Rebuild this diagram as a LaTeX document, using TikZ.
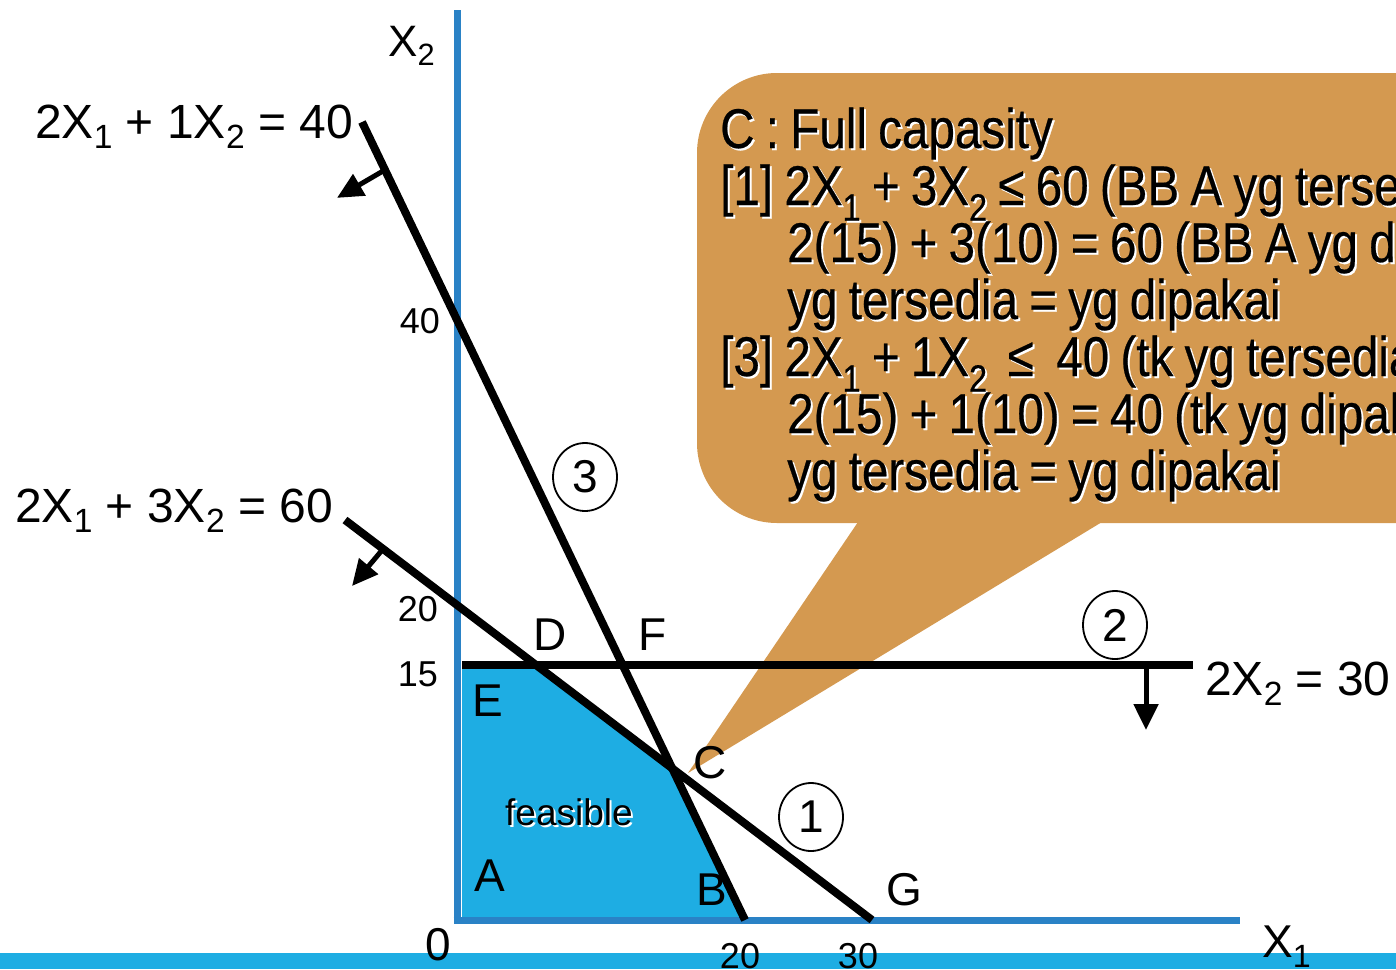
\documentclass[tikz,border=0pt]{standalone}
\usepackage{fontspec}
\usepackage{graphicx}
\setmainfont{Liberation Sans}
\newfontfamily\narrowsans[FakeStretch=0.85,WordSpace=0.85,FakeBold=0.4]{Liberation Sans}
\usetikzlibrary{arrows.meta,positioning,calc,shapes.geometric}
\definecolor{axisblue}{RGB}{42,130,198}
\definecolor{feascyan}{RGB}{30,173,227}
\definecolor{calloutbrown}{RGB}{212,153,80}
\newcommand{\lowsub}[1]{\raisebox{-0.22em}{\scalebox{0.7}{#1}}}
\newcommand{\memosub}[1]{\raisebox{-0.28em}{\scalebox{0.68}{#1}}}

\begin{document}
\begin{tikzpicture}[x=1pt,y=-1pt,>={Triangle[length=26pt,width=24pt]},
  lbl/.style={font=\fontsize{46}{50}\selectfont,inner sep=0pt,anchor=base west},
  eqlbl/.style={lbl,font=\fontsize{48}{52}\selectfont},
  tick/.style={font=\fontsize{36}{40}\selectfont,inner sep=0pt},
  cline/.style={line width=8pt},
  axis/.style={draw=axisblue,line width=7pt},
  dirarrow/.style={->,line width=5pt},
  num/.style={draw,ellipse,line width=1.8pt,minimum width=64pt,minimum height=68pt,inner sep=0pt,font=\fontsize{46}{50}\selectfont},
  memo/.style={font=\narrowsans\fontsize{56}{60}\selectfont,inner sep=0pt,anchor=base west}]
  \useasboundingbox (0,0) rectangle (1396,969);
  \clip (0,0) rectangle (1396,969);
  \coordinate (O) at (457,920);
  \coordinate (ytop) at (457,10);
  \coordinate (xend) at (1240,920);
  \coordinate (l3a) at (362,122);
  \coordinate (l3b) at (745,920);
  \coordinate (l1a) at (345,520);
  \coordinate (l1b) at (872,920);
  \coordinate (l2a) at (462,665);
  \coordinate (l2b) at (1193,665);
  \coordinate (D) at (intersection of l1a--l1b and l2a--l2b);
  \coordinate (C) at (intersection of l1a--l1b and l3a--l3b);

  \fill[feascyan] (l2a) -- (D) -- (C) -- (l3b) -- (462,920) -- cycle;
  \fill[feascyan] (0,953) rectangle (1396,969);

  \fill[calloutbrown,rounded corners=80pt] (697,73) rectangle (1480,523);
  \fill[calloutbrown] (858,522) -- (1102,522) -- (688,773) -- cycle;
  \foreach \bx/\by/\txt [count=\i] in {720/148/{C : Full capasity},
      720/205/{[1] 2X\memosub{1} + 3X\memosub{2} ≤ 60 (BB A yg tersedia)},
      787/262/{2(15) + 3(10) = 60 (BB A yg dipakai)},
      787/319/{yg tersedia = yg dipakai},
      720/376/{[3] 2X\memosub{1} + 1X\memosub{2} \,≤ \ 40 (tk yg tersedia)},
      787/433/{2(15) + 1(10) = 40 (tk yg dipakai)},
      787/490/{yg tersedia = yg dipakai}} {
    \node[memo,white] (memoshade\i) at (\bx+2,\by+2) {\txt};
    \node[memo] (memo\i) at (\bx,\by) {\txt};
  }

  \draw[axis] (ytop) -- (457,923);
  \draw[axis] (453.5,920) -- (xend);
  \draw[cline] (l3a) -- (l3b);
  \draw[cline] (l1a) -- (l1b);
  \draw[cline] (l2a) -- (l2b);

  \coordinate (a3) at ($(l3a)!0.06!(l3b)$);
  \coordinate (a1) at (383,549);
  \coordinate (a2) at (1146,665);
  \draw[dirarrow] (a3) -- ++(-48,28);
  \draw[dirarrow] (a1) -- ++(-31,37);
  \draw[dirarrow] (a2) -- ++(0,65);

  \node[num] (c3) at (585,477) {3};
  \node[num] (c2) at (1115,625) {2};
  \node[num] (c1) at (811,817) {1};

  \node[eqlbl] (eq3) at (35,138) {2X\lowsub{1} + 1X\lowsub{2} = 40};
  \node[eqlbl] (eq1) at (15,522) {2X\lowsub{1} + 3X\lowsub{2} = 60};
  \node[eqlbl] (eq2) at (1205,695) {2X\lowsub{2} = 30};
  \node[lbl,font=\fontsize{44}{48}\selectfont] (xtwo) at (388,56) {X\lowsub{2}};
  \node[lbl] (xone) at (1262,957) {X\lowsub{1}};

  \node[tick,anchor=base east] (t40) at (440,333) {40};
  \node[tick,anchor=base east] (t20) at (438,621) {20};
  \node[tick,anchor=base east] (t15) at (438,686) {15};
  \node[lbl] (t0) at (425,960) {0};
  \node[tick,anchor=base] (b20) at (740,968) {20};
  \node[tick,anchor=base] (b30) at (858,968) {30};

  \node[lbl] (pD) at (533,650) {D};
  \node[lbl] (pF) at (638,650) {F};
  \node[lbl] (pE) at (472,716) {E};
  \node[lbl] (pC) at (693,778) {C};
  \node[lbl] (pA) at (474,891) {A};
  \node[lbl] (pB) at (696,905) {B};
  \node[lbl] (pG) at (886,905) {G};
  \node[lbl,white,font=\fontsize{37}{40}\selectfont] (feasshade) at (507,827) {feasible};
  \node[lbl,font=\fontsize{37}{40}\selectfont] (feas) at (505,825) {feasible};
\end{tikzpicture}
\end{document}
